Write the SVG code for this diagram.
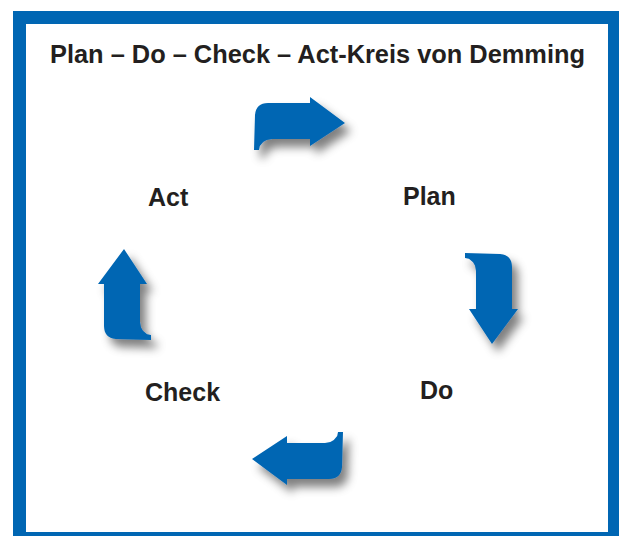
<svg xmlns="http://www.w3.org/2000/svg" width="619" height="536" viewBox="0 0 619 536">
  <defs>
    <style>
      .frame { fill: #0066b3; }
      .panel { fill: #ffffff; }
      .title { font-family: "Liberation Sans", Arial, sans-serif; font-weight: bold; font-size: 25px; fill: #231f20; }
      .label { font-family: "Liberation Sans", Arial, sans-serif; font-weight: bold; font-size: 25px; fill: #231f20; }
      .arrow { fill: #0066b3; }
    </style>
    <filter id="shadow" x="-10%" y="-10%" width="120%" height="120%">
      <feGaussianBlur in="SourceAlpha" stdDeviation="5"/>
      <feOffset dx="6" dy="8" result="blur"/>
      <feFlood flood-color="#000000" flood-opacity="0.5"/>
      <feComposite in2="blur" operator="in" result="shade"/>
      <feMerge>
        <feMergeNode in="shade"/>
        <feMergeNode in="SourceGraphic"/>
      </feMerge>
    </filter>
    <!-- bent arrow: tail end at origin, pointing right -->
    <path id="bent" d="M 0,0 L 1,-35 Q 2,-47 14,-47 L 56,-47 L 56,-53 L 91,-27 L 56,-4 L 56,-11 L 18,-11 Q 6,-10 5,0 Z"/>
  </defs>

  <!-- frame -->
  <rect class="frame" x="13" y="11" width="606" height="525"/>
  <rect class="panel" x="26" y="24" width="582" height="508"/>

  <text class="title" x="50" y="63" textLength="535" lengthAdjust="spacingAndGlyphs">Plan – Do – Check – Act-Kreis von Demming</text>

  <g id="node-plan"><text class="label" x="403" y="205">Plan</text></g>
  <g id="node-do"><text class="label" x="420" y="399">Do</text></g>
  <g id="node-check"><text class="label" x="145" y="401">Check</text></g>
  <g id="node-act"><text class="label" x="148" y="206">Act</text></g>

  <!-- shadow sits on the group so it falls the same way for every arrow -->
  <g id="connectors" filter="url(#shadow)">
    <use class="arrow" href="#bent" transform="translate(254,150)"/>
    <use class="arrow" href="#bent" transform="translate(465,253) rotate(90)"/>
    <use class="arrow" href="#bent" transform="translate(343,432) rotate(180)"/>
    <use class="arrow" href="#bent" transform="translate(151,340) rotate(-90)"/>
  </g>
</svg>
